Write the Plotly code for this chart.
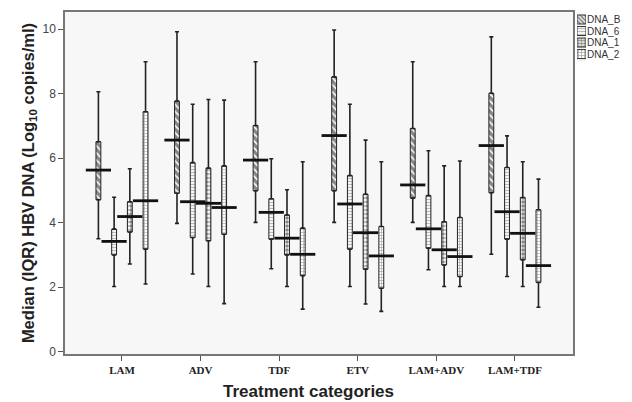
import plotly.graph_objects as go

categories = ["LAM", "ADV", "TDF", "ETV", "LAM+ADV", "LAM+TDF"]
series = ["DNA_B", "DNA_6", "DNA_1", "DNA_2"]

# [min, q1, median, q3, max] per category for each series
dna_b_min = [3.50, 3.98, 4.01, 4.01, 4.01, 3.02]
dna_b_q1 = [4.71, 4.91, 4.99, 4.99, 4.76, 4.93]
dna_b_med = [5.63, 6.56, 5.94, 6.70, 5.17, 6.39]
dna_b_q3 = [6.51, 7.77, 7.01, 8.52, 6.92, 8.01]
dna_b_max = [8.06, 9.92, 8.99, 9.97, 8.99, 9.76]

dna_6_min = [2.02, 2.41, 2.57, 2.02, 2.54, 2.33]
dna_6_q1 = [3.00, 3.54, 3.49, 3.18, 3.21, 3.49]
dna_6_med = [3.42, 4.65, 4.32, 4.58, 3.81, 4.34]
dna_6_q3 = [3.80, 5.86, 4.74, 5.46, 4.84, 5.71]
dna_6_max = [4.79, 7.67, 5.98, 7.67, 6.23, 6.69]

dna_1_min = [2.72, 2.02, 2.02, 1.48, 2.02, 2.02]
dna_1_q1 = [3.71, 3.44, 3.00, 2.56, 2.69, 2.85]
dna_1_med = [4.19, 4.60, 3.52, 3.69, 3.16, 3.67]
dna_1_q3 = [4.65, 5.69, 4.24, 4.88, 4.03, 4.78]
dna_1_max = [5.67, 7.82, 5.02, 6.56, 5.76, 5.89]

dna_2_min = [2.10, 1.49, 1.32, 1.25, 2.02, 1.38]
dna_2_q1 = [3.18, 3.64, 2.36, 1.97, 2.33, 2.15]
dna_2_med = [4.68, 4.47, 3.02, 2.97, 2.95, 2.67]
dna_2_q3 = [7.44, 5.76, 3.83, 3.88, 4.16, 4.40]
dna_2_max = [8.99, 7.80, 5.89, 5.89, 5.91, 5.35]

y_ticks = [0, 2, 4, 6, 8, 10]

data = {
    "DNA_B": (dna_b_min, dna_b_q1, dna_b_med, dna_b_q3, dna_b_max),
    "DNA_6": (dna_6_min, dna_6_q1, dna_6_med, dna_6_q3, dna_6_max),
    "DNA_1": (dna_1_min, dna_1_q1, dna_1_med, dna_1_q3, dna_1_max),
    "DNA_2": (dna_2_min, dna_2_q1, dna_2_med, dna_2_q3, dna_2_max),
}

offsets = {"DNA_B": -0.3, "DNA_6": -0.1, "DNA_1": 0.1, "DNA_2": 0.3}
patterns = {
    "DNA_B": dict(shape="\\", fgcolor="#111", bgcolor="white", size=5, solidity=0.7),
    "DNA_6": dict(shape="-", fgcolor="#777", bgcolor="white", size=3, solidity=0.45),
    "DNA_1": dict(shape=".", fgcolor="#111", bgcolor="white", size=4, solidity=0.6),
    "DNA_2": dict(shape="+", fgcolor="#555", bgcolor="white", size=3, solidity=0.4),
}

fig = go.Figure()
for s in series:
    mn, q1, med, q3, mx = data[s]
    xs = [i + offsets[s] for i in range(len(categories))]
    # lower whisker
    fig.add_trace(go.Scatter(
        x=xs, y=q1, mode="markers", showlegend=False, hoverinfo="skip",
        marker=dict(size=1, color="rgba(0,0,0,0)"),
        error_y=dict(type="data", symmetric=False,
                     array=[0] * len(q1),
                     arrayminus=[a - b for a, b in zip(q1, mn)],
                     color="#222", thickness=1.6, width=2)))
    # upper whisker
    fig.add_trace(go.Scatter(
        x=xs, y=q3, mode="markers", showlegend=False, hoverinfo="skip",
        marker=dict(size=1, color="rgba(0,0,0,0)"),
        error_y=dict(type="data", symmetric=False,
                     array=[b - a for a, b in zip(q3, mx)],
                     arrayminus=[0] * len(q3),
                     color="#222", thickness=1.6, width=2)))
    # IQR box
    fig.add_trace(go.Bar(
        x=xs, base=q1, y=[b - a for a, b in zip(q1, q3)], width=0.062,
        name=s, showlegend=False,
        marker=dict(color="white", pattern=patterns[s],
                    line=dict(color="#222", width=1))))
    # median
    fig.add_trace(go.Scatter(
        x=xs, y=med, mode="markers", showlegend=False, hoverinfo="skip",
        marker=dict(symbol="line-ew", size=18,
                    line=dict(color="#111", width=2.8))))

# compact legend: pattern swatches on a small side axis
fig.add_trace(go.Bar(
    x=[1] * len(series), y=series, orientation="h", width=0.78,
    xaxis="x2", yaxis="y2", showlegend=False, hoverinfo="skip",
    marker=dict(color="white",
                pattern=dict(shape=[patterns[s]["shape"] for s in series],
                             fgcolor=[patterns[s]["fgcolor"] for s in series],
                             size=[3, 3, 3, 3],
                             solidity=[0.6, 0.45, 0.6, 0.45]),
                line=dict(color="#333", width=1))))
for s in series:
    fig.add_annotation(x=1, y=s, xref="x2", yref="y2", text=s, showarrow=False,
                       xanchor="left", yanchor="middle", xshift=-1,
                       font=dict(size=10, color="#333"))

# x-axis title (placed slightly left of centre, as in the original)
fig.add_annotation(x=0.434, y=-0.111, xref="paper", yref="paper",
                   text="<b>Treatment categories</b>", showarrow=False,
                   xanchor="center", yanchor="middle",
                   font=dict(size=17, color="#222"))

fig.update_layout(
    width=624, height=394,
    margin=dict(l=57, r=5, t=4, b=48, autoexpand=False),
    paper_bgcolor="white",
    plot_bgcolor="#f7f7f7",
    barmode="overlay",
    font=dict(family="Liberation Sans, Arial", color="#333"),
    showlegend=False,
    xaxis=dict(
        domain=[0, 0.904],
        range=[-0.725, 5.74],
        tickmode="array",
        tickvals=list(range(len(categories))),
        ticktext=["<b>%s</b>" % c for c in categories],
        tickfont=dict(family="Liberation Serif, Times New Roman", size=11, color="#222"),
        ticks="outside", ticklen=5, tickcolor="#555",
        showline=True, linecolor="#777", linewidth=1.5, mirror=True,
        showgrid=False, zeroline=False,
    ),
    yaxis=dict(
        range=[-0.07, 10.53],
        tickmode="array",
        tickvals=y_ticks,
        tickfont=dict(size=12, color="#444"),
        ticks="outside", ticklen=5, tickcolor="#555",
        showline=True, linecolor="#777", linewidth=1.5, mirror=True,
        showgrid=False, zeroline=False,
        title=dict(text="<b>Median (IQR) HBV DNA (Log<sub>10</sub> copies/ml)</b>",
                   font=dict(size=16.5, color="#222"), standoff=4),
    ),
    xaxis2=dict(domain=[0.911, 0.927], anchor="y2", range=[0, 1],
                visible=False, fixedrange=True),
    yaxis2=dict(domain=[0.855, 1.0], anchor="x2", autorange="reversed",
                visible=False, fixedrange=True),
)

fig.write_html("out.html")
